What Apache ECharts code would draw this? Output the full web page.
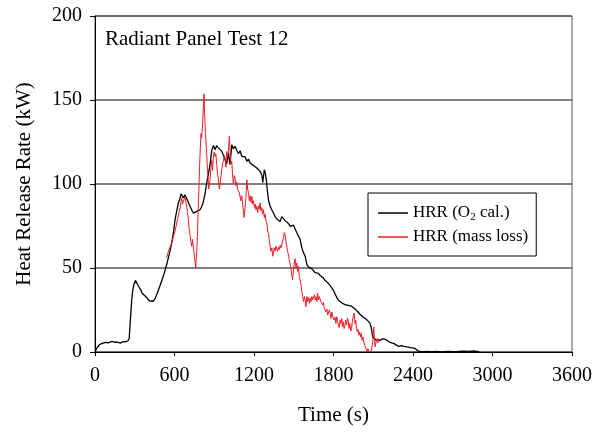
<!DOCTYPE html>
<html style="height: 100%">
<head>
    <title>Radiant Panel Test 12</title>
    <meta charset="utf-8">
</head>
<body style="height: 100%; margin: 0; background: #fff">
<div id="container" style="height: 433px; width: 608px"></div>
<script src="https://cdn.jsdelivr.net/npm/echarts@6/dist/echarts.min.js"></script>
<script type="text/javascript">
    // axis ticks
    var timeTicks = [0, 600, 1200, 1800, 2400, 3000, 3600];
    var hrrTicks = [0, 50, 100, 150, 200];

    // HRR from O2 calorimetry, [time (s), kW]
    var hrrO2 = [
        [0,0],[5,0.5],[15,2.5],[33,4.3],[50,5],[78,5.7],[100,5.4],[128,6.3],[150,5.8],[170,5.9],[191,5.3],[210,6.1],
        [230,6],[249,6.7],[258,8],[267,19],[276,30],[285,37],[295,40.5],[305,42.6],[315,41.5],[330,39],[345,37],
        [355,35.1],[370,34.5],[393,32.1],[410,30.5],[425,29.5],[440,30.2],[455,32.1],[470,35],[493,40],[506,43],
        [519,46],[532,49.5],[544,53],[560,58],[579,64.9],[592,71],[604,78.7],[617,84],[629,88.7],[640,91],[650,94.2],
        [658,93],[667,91.7],[680,93.5],[692,92.6],[705,89],[717,86.7],[730,84.5],[742,82.7],[755,82],[768,83.7],
        [780,84],[793,84.7],[805,86.5],[818,89.6],[830,94],[843,100.6],[856,106],[869,112],[881,120],[894,123],
        [906,120.4],[918,122.8],[931,121.5],[944,122.4],[957,119.4],[970,117],[982,116.4],[994,112],[1007,118.4],
        [1019,111.5],[1032,123.4],[1045,120.8],[1057,122.5],[1070,121.4],[1082,118],[1095,119.8],[1108,116.5],
        [1120,115.5],[1133,116.2],[1146,113.5],[1158,114.8],[1171,112.5],[1184,113.6],[1196,111],[1209,112],
        [1221,109.5],[1234,110.3],[1246,107.5],[1259,105.5],[1266,101],[1271,104],[1278,108.5],[1284,107],
        [1292,103],[1301,96],[1310,90],[1322,86.7],[1335,84.5],[1347,82.7],[1360,80.5],[1372,79.2],[1385,78.5],
        [1397,77.7],[1410,80.6],[1422,79.8],[1435,78.2],[1447,78.7],[1460,76.5],[1473,74.8],[1485,74],[1498,75.5],
        [1510,74.8],[1523,71],[1536,69],[1548,67],[1561,62],[1574,59],[1586,57],[1599,52],[1612,50.5],[1624,51],
        [1637,49.5],[1649,49],[1662,47.2],[1674,46.5],[1687,46.8],[1699,45.5],[1712,44.5],[1724,44],[1737,42.5],
        [1750,41.5],[1763,40.7],[1775,39.5],[1788,38],[1800,36.7],[1812,34.5],[1825,32.5],[1837,30.8],[1850,30],
        [1862,29.3],[1874,28.8],[1886,28.2],[1899,28.4],[1911,27.8],[1923,27.5],[1936,27.3],[1948,26.8],[1960,25.8],
        [1973,24.8],[1985,23.8],[1998,22.6],[2010,22],[2022,20.8],[2035,20.3],[2047,19.6],[2059,18.8],[2072,17.5],
        [2084,14.9],[2090,12],[2096,8.9],[2108,8.5],[2120,7.2],[2133,7.9],[2146,6.8],[2158,6.5],[2170,7.8],
        [2183,6.9],[2195,7.5],[2208,6.6],[2220,6],[2238,5.4],[2257,5],[2275,4.1],[2294,3.4],[2312,3.8],[2331,3.4],
        [2355,3],[2380,2.6],[2400,2.4],[2418,2],[2430,1.2],[2442,0.4],[2460,0.3],[2480,0.2],[2504,0.4],[2540,0.2],
        [2580,0.3],[2620,0.1],[2660,0.4],[2700,0.2],[2740,0.3],[2780,0.5],[2820,0.3],[2860,0.6],[2880,0.4],[2900,0.2]
    ];

    // HRR from mass loss, [time (s), kW]
    var hrrMass = [
        [540,56],[554,59.9],[565,62],[579,65],[592,68.8],[604,72],[617,76.8],[629,81],[642,85.7],[648,89],[654,91.7],
        [660,88],[667,88.7],[673,91],[680,92.6],[686,89],[692,86.7],[698,83],[705,78.7],[711,73],[717,69.8],[724,66],
        [730,62.9],[736,67],[742,65.9],[746,60],[750,57],[756,53],[760,50],[763,51],[768,60],[773,68.8],[779,85],
        [785,98.6],[790,112],[795,122],[800,130],[805,127.4],[810,133],[815,141],[820,150],[823,153.6],[826,145],
        [830,136],[834,130],[838,129],[843,118],[848,109.5],[853,104],[858,97],[863,99.6],[869,103],[875,110],
        [881,114],[887,108],[893,116],[899,119],[906,116.4],[912,118],[919,111.5],[925,106],[931,103],[938,97],
        [944,99.6],[950,104],[957,109],[963,112],[969,113.5],[975,117],[982,115],[988,110],[994,119.4],[1000,116],
        [1007,120],[1014,128.3],[1020,118],[1026,112],[1032,113.5],[1038,106],[1044,100],[1051,105],[1057,103.6],
        [1063,99],[1070,101],[1076,97],[1082,98],[1089,95],[1095,94.6],[1101,90],[1108,93],[1114,88],[1120,84],
        [1126,80],[1133,79],[1139,92],[1146,102.6],[1152,97],[1158,95],[1165,90],[1171,93],[1178,89],[1184,92.6],
        [1190,88],[1196,90],[1203,86],[1209,88],[1215,84.5],[1221,86.7],[1228,83],[1234,87],[1240,85],[1246,88.7],
        [1252,84],[1259,86],[1265,82],[1271,84.7],[1278,80],[1284,82],[1290,78],[1297,76.8],[1303,72],[1310,70],
        [1316,66],[1322,64.9],[1328,60],[1335,62],[1341,57],[1347,58.9],[1353,62],[1360,60],[1366,63],[1372,61.9],
        [1378,60],[1385,62.5],[1391,61],[1397,63.5],[1404,62],[1410,62.9],[1416,66],[1422,68],[1429,71],[1435,69.8],
        [1441,66],[1447,64.9],[1453,60],[1460,58],[1466,55],[1473,54.9],[1479,50],[1485,46],[1491,43],[1498,49],
        [1504,53],[1510,55.5],[1517,50],[1523,53],[1529,48],[1536,51],[1542,45],[1548,44],[1555,40],[1561,36],
        [1567,33],[1574,30],[1580,33],[1586,31],[1592,27],[1599,33],[1605,30],[1612,32.5],[1618,29],[1624,32],
        [1630,30],[1637,33],[1643,31],[1649,32],[1656,34],[1662,31],[1668,33],[1674,30],[1680,35],[1687,31],
        [1693,33],[1699,33.5],[1705,30],[1712,31],[1718,28],[1724,29.5],[1730,26],[1737,27],[1743,24],[1750,25.5],
        [1756,22],[1763,22.8],[1769,25],[1775,23],[1781,20],[1788,23.8],[1794,21],[1800,22],[1806,19],[1812,20.8],
        [1818,17],[1825,21],[1831,18],[1837,18.8],[1843,14.5],[1850,19],[1856,17],[1862,19.8],[1868,15],[1874,18],
        [1880,14],[1886,15.9],[1892,19],[1899,16],[1905,20],[1911,18.8],[1917,14],[1923,17],[1930,12.5],[1936,13.9],
        [1942,18],[1948,21],[1956,23.2],[1962,17],[1967,19],[1973,14.9],[1979,12],[1985,13.5],[1992,10],[1998,11.9],
        [2004,9],[2010,11],[2016,7],[2022,8.9],[2028,6],[2034,7],[2040,3],[2047,1.5],[2054,0],[2060,2],[2066,0.5],
        [2072,1],[2078,0],[2084,0],[2090,3],[2096,6],[2100,11],[2104,14.9],[2108,9],[2114,3],[2121,6],[2128,7.9],
        [2134,5.5],[2140,8],[2146,6.9],[2152,7.5]
    ];

    var seriesNames = ['HRR (O2 cal.)', 'HRR (mass loss)'];

    var dom = document.getElementById("container");
    var myChart = echarts.init(dom);
    var serif = 'Liberation Serif, Times New Roman, serif';

    myChart.setOption({
        animation: false,
        backgroundColor: '#fff',
        title: {
            text: 'Radiant Panel Test 12',
            left: 105,
            top: 29,
            padding: 0,
            textStyle: {fontFamily: serif, fontSize: 21, fontWeight: 'normal', color: '#000'}
        },
        grid: {
            left: 95, right: 36, top: 16, bottom: 81,
            show: true, borderColor: '#555', borderWidth: 1
        },
        legend: {
            data: seriesNames,
            orient: 'vertical',
            left: 368,
            top: 193,
            padding: [10, 8, 9, 10],
            itemGap: 4,
            itemWidth: 30,
            itemHeight: 1.5,
            icon: 'rect',
            backgroundColor: '#fff',
            borderColor: '#000',
            borderWidth: 1,
            borderRadius: 0,
            formatter: function (name) {
                if (name === seriesNames[0]) return 'HRR (O{sub|2} cal.)';
                return name;
            },
            textStyle: {
                fontFamily: serif, fontSize: 17, color: '#000', lineHeight: 20,
                rich: {
                    sub: {fontFamily: serif, fontSize: 11, lineHeight: 11, padding: [9, 0, 0, 0], color: '#000'}
                }
            }
        },
        xAxis: {
            type: 'value',
            min: timeTicks[0],
            max: timeTicks[timeTicks.length - 1],
            interval: timeTicks[1] - timeTicks[0],
            name: 'Time (s)',
            nameLocation: 'middle',
            nameGap: 53,
            nameTextStyle: {fontFamily: serif, fontSize: 21, color: '#000'},
            axisLine: {lineStyle: {color: '#000', width: 1}},
            axisTick: {inside: false, length: 4, lineStyle: {color: '#000'}},
            axisLabel: {
                fontFamily: serif, fontSize: 20, color: '#000', margin: 14,
                formatter: function (v) { return String(v); }
            },
            splitLine: {show: false}
        },
        yAxis: {
            type: 'value',
            min: hrrTicks[0],
            max: hrrTicks[hrrTicks.length - 1],
            interval: hrrTicks[1] - hrrTicks[0],
            name: 'Heat Release Rate (kW)',
            nameLocation: 'middle',
            nameGap: 60,
            nameTextStyle: {fontFamily: serif, fontSize: 21, color: '#000'},
            axisLine: {show: true, lineStyle: {color: '#000', width: 1}},
            axisTick: {show: true, inside: false, length: 5, lineStyle: {color: '#000'}},
            axisLabel: {fontFamily: serif, fontSize: 20, color: '#000', margin: 13},
            splitLine: {show: true, lineStyle: {color: '#555', width: 1.5}}
        },
        series: [
            {
                name: seriesNames[0],
                type: 'line',
                data: hrrO2,
                showSymbol: false,
                color: '#000',
                lineStyle: {color: '#000', width: 1.3}
            },
            {
                name: seriesNames[1],
                type: 'line',
                data: hrrMass,
                showSymbol: false,
                color: '#ee1c25',
                lineStyle: {color: '#ee1c25', width: 1}
            }
        ]
    });
</script>
</body>
</html>
